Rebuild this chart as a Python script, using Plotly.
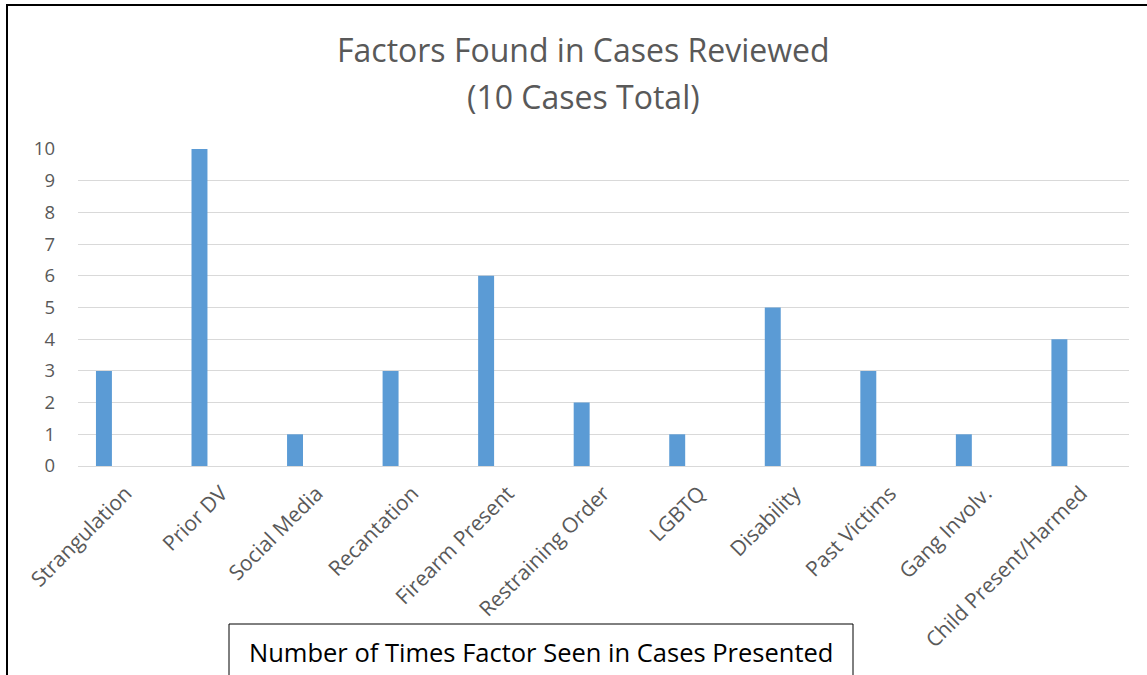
import plotly.graph_objects as go

categories = ["Strangulation", "Prior DV", "Social Media", "Recantation", "Firearm Present",
              "Restraining Order", "LGBTQ", "Disability", "Past Victims", "Gang Involv.",
              "Child Present/Harmed"]
counts = [3, 10, 1, 3, 6, 2, 1, 5, 3, 1, 4]
y_ticks = list(range(0, 11))
series_name = "Number of Times Factor Seen in Cases Presented"
title_lines = ["Factors Found in Cases Reviewed", "(10 Cases Total)"]

W, H = 1147, 675
L, R, T, B = 78, 18, 149, 209
pw, ph = W - L - R, H - T - B

def px(x):
    return (x - L) / pw

def py(y):
    return (H - B - y) / ph

FONT = "Open Sans"
GRAY = "#595959"

fig = go.Figure(go.Bar(x=categories, y=counts, marker_color="#5B9BD5",
                       marker_line_width=0, name=series_name, showlegend=False,
                       width=0.167, offset=-0.312))

fig.update_layout(
    width=W, height=H,
    margin=dict(l=L, r=R, t=T, b=B),
    plot_bgcolor="white", paper_bgcolor="white",
    font=dict(family=FONT, color=GRAY, size=18),
    xaxis=dict(tickangle=-45, tickfont=dict(size=21, color=GRAY, family=FONT),
               showgrid=False, showline=False, ticks="", ticklen=0, ticklabelstandoff=10),
    yaxis=dict(range=[0, 10.0], tickvals=y_ticks, showgrid=True, gridcolor="#D9D9D9",
               gridwidth=1, zeroline=True, zerolinecolor="#D9D9D9", zerolinewidth=1,
               tickfont=dict(size=18.5, color=GRAY, family=FONT), ticks="", ticklabelstandoff=22),
)

for line, yc in zip(title_lines, [50, 97]):
    fig.add_annotation(xref="paper", yref="paper", x=px(583), y=py(yc), text=line,
                       showarrow=False, font=dict(size=32, color=GRAY, family=FONT),
                       xanchor="center", yanchor="middle")

# legend-like text box
fig.add_shape(type="rect", xref="paper", yref="paper", x0=px(229), x1=px(853),
              y0=py(720), y1=py(624), line=dict(color="black", width=1), fillcolor="white", layer="above")
fig.add_annotation(xref="paper", yref="paper", x=px(541), y=py(652), text=series_name,
                   showarrow=False, font=dict(size=25.5, color="black", family=FONT),
                   xanchor="center", yanchor="middle")

# outer border
fig.add_shape(type="path", xref="paper", yref="paper",
              path=f"M {px(7)} {py(720)} L {px(7)} {py(5)} L {px(1200)} {py(5)}",
              line=dict(color="black", width=2))

fig.write_html("out.html", config={"displayModeBar": False},
               post_script="document.body.style.margin='0px';")
